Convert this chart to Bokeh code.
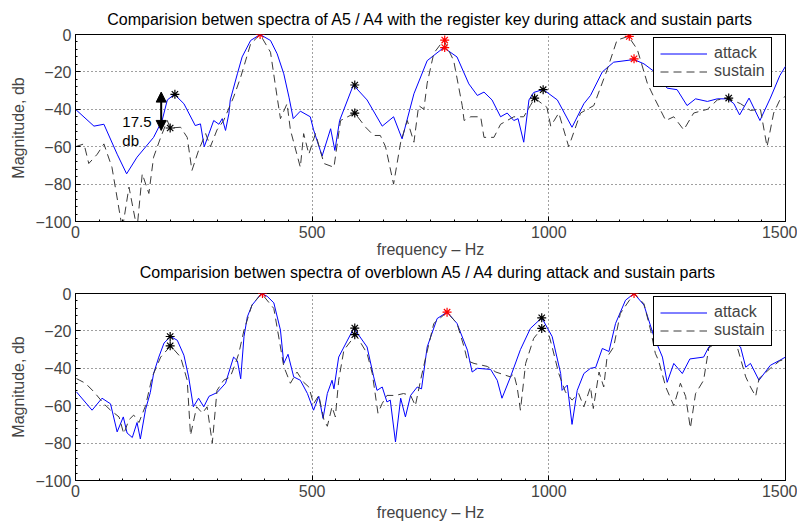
from bokeh.plotting import figure
from bokeh.layouts import column
from bokeh.models import FixedTicker, Arrow, NormalHead, Legend, LegendItem, Range1d, Title
from bokeh.core.properties import value
from bokeh.embed import file_html
from bokeh.resources import INLINE

# ---------------- data: top panel (register key) ----------------
top_attack_f = [0, 39, 60, 88, 108, 130, 165, 183, 194, 209, 229, 253, 264, 272, 282, 292, 303, 310, 317, 324,
                327, 342, 352, 370, 390, 412, 426, 440, 451, 460, 475, 496, 503, 521, 539, 548, 558, 587, 616, 648,
                672, 690, 715, 743, 778, 806, 831, 849, 863, 880, 898, 912, 926, 935, 947, 958, 968, 988, 1018,
                1049, 1074, 1088, 1113, 1137, 1180, 1201, 1221, 1250, 1271, 1292, 1310, 1335, 1356, 1378, 1391,
                1403, 1423, 1446, 1468, 1488, 1500]
top_attack_db = [-40, -49, -48, -64, -74.5, -65.6, -55, -46, -35, -32, -37, -48.7, -47.8, -60, -53, -46, -48, -45,
                 -51.3, -42.4, -35, -21, -12, -3.2, 0, -3.2, -10.3, -21, -33.5, -45, -41, -44, -51, -65, -50.4,
                 -62, -46, -27, -35, -49, -44, -55.8, -31.7, -14, -7, -12, -26.4, -32.6, -30.8, -35, -44, -42, -46,
                 -45, -57.6, -35, -31, -29.4, -35, -49.6, -37, -32.6, -20, -14.8, -13.4, -15.7, -19.5, -28.7,
                 -29.5, -38, -34.4, -35.8, -34.4, -34.4, -37, -43, -34, -46, -34, -22, -17]

top_sustain_f = [0, 18, 28, 46, 60, 77, 99, 113, 130, 141, 155, 165, 180, 194, 200, 222, 236, 246, 260, 275, 285,
                 299, 313, 334, 349, 370, 390, 412, 426, 433, 447, 454, 475, 482, 493, 507, 525, 546, 560, 590,
                 613, 630, 644, 655, 672, 687, 701, 715, 725, 736, 743, 757, 778, 799, 817, 821, 835, 856, 863,
                 884, 898, 926, 947, 961, 970, 996, 1004, 1021, 1042, 1067, 1095, 1123, 1144, 1168, 1187, 1208,
                 1222, 1247, 1264, 1285, 1306, 1335, 1356, 1378, 1405, 1426, 1447, 1461, 1475, 1488, 1500]
top_sustain_db = [-60, -58.5, -69, -64, -58.5, -71, -104, -81.6, -104, -74.5, -85, -65.6, -55, -46, -50, -49.6,
                  -55, -72.7, -62, -53, -60, -51, -46, -33.5, -22.8, -5, 0, -9.5, -33.5, -45, -37, -51, -71, -53,
                  -64, -53, -69, -71, -46, -42, -49.6, -54, -54, -60, -80, -57.6, -46, -57.6, -38, -40, -26, -10,
                  -3, -14, -38, -46, -44, -44, -55, -55, -48, -44, -44, -38, -34, -39, -49, -42, -60, -42, -38,
                  -19, -3, -1, -8, -26, -33.5, -46, -44, -51, -42, -40, -35, -34, -37, -40.6, -40, -60, -42, -35,
                  -33]

top_red_f = [390, 780, 780, 1170, 1180]
top_red_db = [0, -3, -7, -1, -13]
top_black_f = [210, 200, 590, 590, 970, 988, 1380]
top_black_db = [-32, -50, -27, -42, -34, -29.5, -34]

# ---------------- data: bottom panel (overblown) ----------------
bot_attack_f = [2, 35, 56, 74, 88, 101, 109, 120, 130, 137, 148, 158, 165, 176, 187, 201, 215, 229, 239, 249, 260,
                271, 282, 299, 317, 334, 342, 349, 356, 363, 373, 393, 405, 419, 433, 440, 449, 461, 475, 490, 503,
                514, 523, 532, 542, 546, 556, 588, 616, 630, 637, 648, 658, 665, 676, 687, 697, 708, 722, 731, 743,
                764, 785, 806, 828, 838, 849, 877, 891, 901, 919, 940, 961, 985, 1007, 1025, 1028, 1039, 1049,
                1060, 1074, 1088, 1099, 1113, 1127, 1141, 1162, 1180, 1201, 1222, 1240, 1250, 1264, 1282, 1298,
                1327, 1338, 1370, 1405, 1416, 1426, 1444, 1468, 1488, 1500]
bot_attack_db = [-52.6, -62.4, -56, -59, -74, -66, -74.6, -77, -69, -77.8, -62, -53, -42.8, -34, -26.5, -23, -25,
                 -33, -44.6, -60.6, -56, -60.6, -55, -53, -48, -34, -36, -45.6, -23, -12.5, -6.2, 0, -1.5, -5,
                 -19.6, -37.4, -32.5, -44.6, -46.4, -53.5, -62.4, -55, -66.8, -53.5, -46.4, -51, -34, -18.5,
                 -28.6, -44.6, -51.8, -50, -58, -57, -79.4, -56, -66, -54.5, -50, -51, -28.6, -13.4, -10, -16,
                 -30.3, -42, -40, -40.6, -46.4, -56, -44.6, -30, -18.7, -13, -23, -42.8, -51.8, -49, -70, -51.8,
                 -42.8, -40, -39.5, -29.4, -31, -16, -3.6, 0, -6.2, -23, -34, -47.5, -37.4, -42.8, -35, -34,
                 -28.6, -22, -28.6, -39.4, -37.4, -46.4, -38.4, -35.7, -34]

bot_sustain_f = [2, 21, 39, 60, 74, 92, 102, 113, 123, 134, 148, 162, 180, 201, 222, 236, 243, 256, 268, 278, 289,
                 299, 313, 327, 338, 345, 356, 373, 393, 419, 433, 440, 454, 468, 482, 493, 503, 514, 525, 532,
                 542, 549, 556, 567, 592, 616, 627, 639, 648, 658, 676, 693, 708, 718, 729, 740, 757, 785, 806,
                 821, 828, 842, 870, 888, 919, 926, 933, 940, 951, 968, 985, 1000, 1007, 1021, 1035, 1049, 1063,
                 1074, 1088, 1094, 1106, 1116, 1123, 1137, 1151, 1180, 1201, 1215, 1225, 1232, 1247, 1264, 1278,
                 1289, 1299, 1310, 1327, 1338, 1370, 1398, 1416, 1426, 1437, 1444, 1468, 1488, 1500]
bot_sustain_db = [-45.5, -48, -52.6, -59, -62.4, -66, -75, -67.5, -65, -69, -60, -44.6, -34, -28, -34, -46.4,
                  -75.8, -60.6, -64, -60.6, -80, -51.8, -46.4, -44.6, -37.4, -32, -19.6, -6, 0, -8, -28.6, -39,
                  -48, -42, -47.5, -50, -59, -54.5, -67.7, -71, -60.6, -66, -46.4, -30.3, -22, -32, -42.8, -64,
                  -58.8, -54.5, -54.5, -53.5, -54.5, -60, -46.4, -34, -16, -10, -16, -28.6, -36, -37.4, -39, -42,
                  -44.6, -43, -50, -62.4, -37.4, -24, -18.7, -22, -28.6, -42.8, -52.6, -57, -53.5, -60.6, -50,
                  -61.5, -42, -50, -34, -28.6, -10.7, 0, -5.5, -19.6, -32, -36, -50, -60, -48, -55, -72, -53.5,
                  -46.4, -29, -24, -28.6, -44.6, -50, -55, -45.5, -40, -36, -35]

bot_red_f = [395, 785, 1180]
bot_red_db = [0, -10, 0]
bot_black_f = [200, 200, 590, 590, 985, 985]
bot_black_db = [-23, -28, -18.5, -22, -13, -18.7]

x_ticks = [0, 500, 1000, 1500]
y_ticks = [-100, -80, -60, -40, -20, 0]

titles = ["Comparision betwen spectra of A5 / A4 with the register key during attack and sustain parts",
          "Comparision betwen spectra of overblown A5 / A4  during attack and sustain parts"]
x_label = "frequency \u2013 Hz"
y_label = "Magnitude, db"
series_names = ["attack", "sustain"]

# annotation (top panel)
arrow_f = 181
arrow_db_top = -30.8
arrow_db_bottom = -51.3
note_f = 99
note_line1_db = -47
note_line2_db = -56.5

FONT = "Liberation Sans"
BLUE = "#0000ff"
DASH_COLOR = "#3a3a3a"
FS = "16px"


def style_title(t, standoff):
    t.align = "center"
    t.text_font = FONT
    t.text_font_size = FS
    t.text_font_style = "normal"
    t.text_color = "black"
    t.standoff = standoff


def make_panel(af, adb, sf, sdb, redf, reddb, blkf, blkdb, height, top_border, bottom_border,
               xlabel_standoff):
    p = figure(width=797, height=height, output_backend="svg", toolbar_location=None,
               x_range=Range1d(0, 1500), y_range=Range1d(-100, 0),
               min_border_left=75, min_border_right=12, min_border_top=top_border,
               min_border_bottom=bottom_border)

    p.outline_line_color = "black"
    p.outline_line_width = 1
    p.background_fill_color = "white"
    p.border_fill_color = "white"

    xt = FixedTicker(ticks=x_ticks, minor_ticks=list(range(0, 1501, 50)))
    yt = FixedTicker(ticks=y_ticks, minor_ticks=list(range(-100, 1, 4)))
    for ax in p.xaxis:
        ax.ticker = xt
    for ax in p.yaxis:
        ax.ticker = yt
    p.xaxis.axis_label = x_label
    p.yaxis.axis_label = y_label
    for ax in list(p.xaxis) + list(p.yaxis):
        ax.major_tick_in = 5
        ax.major_tick_out = 0
        ax.minor_tick_in = 2
        ax.minor_tick_out = 0
        ax.major_label_text_font = FONT
        ax.major_label_text_font_size = FS
        ax.axis_label_text_font = FONT
        ax.axis_label_text_font_size = FS
        ax.axis_label_text_font_style = "normal"
        ax.axis_line_color = "black"
        ax.major_tick_line_color = "black"
        ax.minor_tick_line_color = "black"
        ax.major_label_standoff = 4
    p.xaxis.axis_label_standoff = xlabel_standoff
    p.yaxis.axis_label_standoff = 5
    p.yaxis.major_label_overrides = {v: str(v).replace("-", "\u2212") for v in y_ticks}

    p.xgrid.ticker = x_ticks
    p.ygrid.ticker = y_ticks
    for g in (p.xgrid, p.ygrid):
        g.grid_line_color = "black"
        g.grid_line_alpha = 0.75
        g.grid_line_dash = "1 3"
        g.grid_line_width = 1

    r_a = p.line(af, adb, line_color=BLUE, line_width=1)
    r_s = p.line(sf, sdb, line_color=DASH_COLOR, line_width=1, line_dash="8 5")
    p.scatter(redf, reddb, marker="asterisk", size=9, line_color="#ff0000", line_width=1.2)
    p.scatter(blkf, blkdb, marker="asterisk", size=9, line_color="black", line_width=1.2)

    legend = Legend(items=[LegendItem(label=series_names[0], renderers=[r_a]),
                           LegendItem(label=series_names[1], renderers=[r_s])],
                    location=(578, 134), margin=0, padding=6, spacing=0,
                    glyph_width=47, glyph_height=17, label_height=17,
                    label_text_font=FONT, label_text_font_size=FS, label_standoff=7,
                    border_line_color="black", border_line_width=1, border_line_alpha=1,
                    background_fill_alpha=1)
    p.add_layout(legend, "center")
    return p


# top panel: its own title above, and the lower panel's title placed beneath its x axis
p1 = make_panel(top_attack_f, top_attack_db, top_sustain_f, top_sustain_db,
                top_red_f, top_red_db, top_black_f, top_black_db, 282, 34, 61, 0)
t_top = Title(text=titles[0])
style_title(t_top, 14)
p1.add_layout(t_top, "above")
t_bot = Title(text=titles[1])
style_title(t_bot, 2)
p1.add_layout(t_bot, "below")

p1.add_layout(Arrow(start=NormalHead(size=10, fill_color="black", line_color="black"),
                    end=NormalHead(size=10, fill_color="black", line_color="black"),
                    x_start=arrow_f, y_start=arrow_db_bottom, x_end=arrow_f, y_end=arrow_db_top,
                    line_color="black", line_width=2))
p1.text(x=[note_f], y=[note_line1_db], text=["17.5"], text_font=value(FONT), text_font_size="15px",
        text_align="left", text_baseline="alphabetic", text_color="black")
p1.text(x=[note_f], y=[note_line2_db], text=["db"], text_font=value(FONT), text_font_size="15px",
        text_align="left", text_baseline="alphabetic", text_color="black")

p2 = make_panel(bot_attack_f, bot_attack_db, bot_sustain_f, bot_sustain_db,
                bot_red_f, bot_red_db, bot_black_f, bot_black_db, 242, 11, 44, 4)

layout = column(p1, p2, spacing=0)
open("out.html", "w").write(file_html(layout, INLINE))
